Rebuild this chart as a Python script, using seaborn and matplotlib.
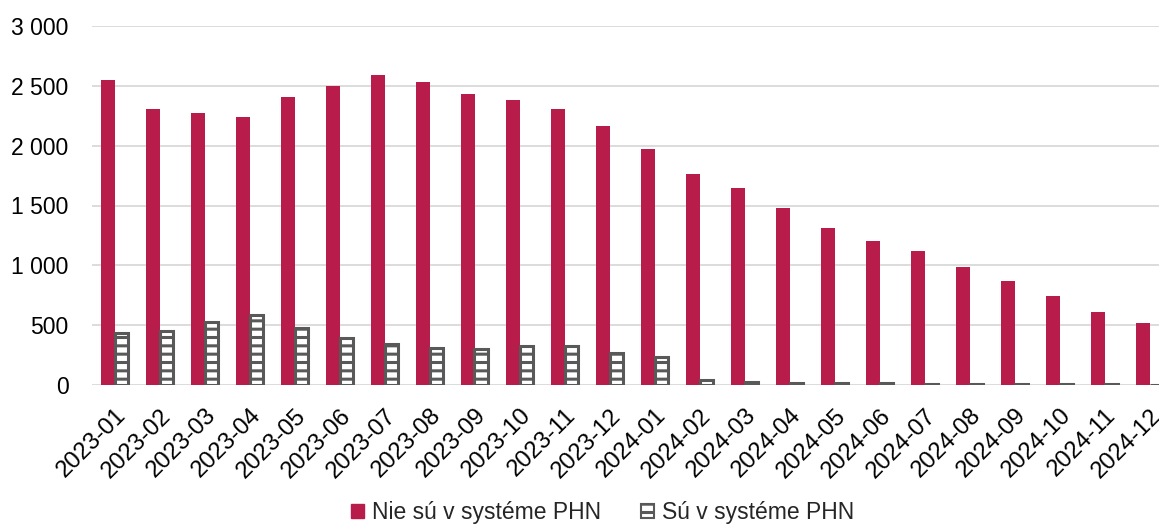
import matplotlib
matplotlib.use("Agg")
import matplotlib.pyplot as plt
import seaborn as sns
import pandas as pd
from matplotlib.patches import Patch
from matplotlib.ticker import FuncFormatter

months = ["2023-01", "2023-02", "2023-03", "2023-04", "2023-05", "2023-06",
          "2023-07", "2023-08", "2023-09", "2023-10", "2023-11", "2023-12",
          "2024-01", "2024-02", "2024-03", "2024-04", "2024-05", "2024-06",
          "2024-07", "2024-08", "2024-09", "2024-10", "2024-11", "2024-12"]
nie_phn = [2550, 2308, 2274, 2240, 2408, 2500, 2592, 2533, 2433, 2383, 2308, 2165,
           1973, 1764, 1647, 1480, 1313, 1204, 1120, 987, 870, 744, 610, 518]
su_phn = [435, 450, 525, 585, 475, 395, 345, 310, 300, 325, 330, 265,
          230, 45, 25, 18, 16, 18, 12, 10, 6, 5, 5, 4]
series_names = ["Nie sú v systéme PHN", "Sú v systéme PHN"]

red = "#B81C4B"
grey = "#595959"

df = pd.DataFrame({
    "month": months * 2,
    "value": nie_phn + su_phn,
    "series": [series_names[0]] * len(months) + [series_names[1]] * len(months),
})

sns.set_style("white")
plt.rcParams["font.family"] = ["Liberation Sans", "DejaVu Sans"]
plt.rcParams["hatch.linewidth"] = 2.2

fig = plt.figure(figsize=(11.59, 5.27), dpi=100)
ax = fig.add_axes([92 / 1159, 1 - 385 / 527, 1080 / 1159, 359 / 527])

sns.barplot(data=df, x="month", y="value", hue="series", order=months,
            hue_order=series_names, palette=[red, "white"], width=0.62,
            gap=0, errorbar=None, saturation=1, ax=ax, legend=False)

for bar in ax.containers[0]:
    bar.set_edgecolor(red)
    bar.set_linewidth(0)
for bar in ax.containers[1]:
    bar.set_facecolor("white")
    bar.set_edgecolor(grey)
    bar.set_hatch("--")
    bar.set_linewidth(2.2)

ax.set_ylim(0, 3000)
ax.set_xlim(-0.5, len(months) - 0.5)
ax.set_yticks(range(0, 3001, 500))
ax.yaxis.set_major_formatter(FuncFormatter(lambda v, p: f"{int(v):,}".replace(",", " ")))
ax.grid(axis="y", color="#D9D9D9", linewidth=1.3)
ax.set_axisbelow(True)
for s in ax.spines.values():
    s.set_visible(False)
ax.tick_params(axis="both", length=0, labelsize=16.5, colors="black")
ax.tick_params(axis="y", pad=17)
ax.tick_params(axis="x", pad=14, labelsize=17.2)
plt.setp(ax.get_xticklabels(), rotation=45, ha="right", rotation_mode="anchor")
ax.set_xlabel("")
ax.set_ylabel("")

handles = [Patch(facecolor=red, edgecolor=red, label=series_names[0]),
           Patch(facecolor="white", edgecolor=grey, hatch="--", linewidth=1.5,
                 label=series_names[1])]
fig.legend(handles=handles, loc="center", bbox_to_anchor=(0.52, 1 - 513 / 527),
           ncol=2, frameon=False, fontsize=16.5, handlelength=0.55,
           handleheight=0.55, handletextpad=0.35, columnspacing=1.75)

fig.savefig("out.png", dpi=100)
